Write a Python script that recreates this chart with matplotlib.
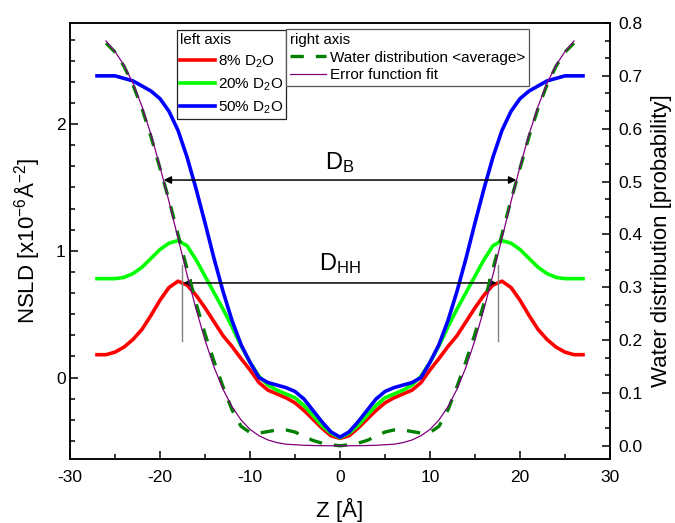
import matplotlib
matplotlib.use('Agg')
import matplotlib.pyplot as plt
from matplotlib.ticker import MultipleLocator

plt.rcParams['font.family'] = ['Liberation Sans', 'DejaVu Sans']
plt.rcParams['mathtext.fontset'] = 'custom'
plt.rcParams['mathtext.rm'] = 'Liberation Sans'
plt.rcParams['mathtext.it'] = 'Liberation Sans:italic'
plt.rcParams['mathtext.bf'] = 'Liberation Sans:bold'
plt.rcParams['axes.unicode_minus'] = False

# ---------------- data ----------------
z_nsld = list(range(-27, 28))
nsld_8 = [0.18, 0.18, 0.20, 0.24, 0.30, 0.38, 0.49, 0.61, 0.71, 0.76, 0.73, 0.65, 0.55, 0.44,
          0.33, 0.245, 0.15, 0.06, -0.04, -0.10, -0.13, -0.16, -0.20, -0.26, -0.33, -0.40, -0.46,
          -0.48,
          -0.46, -0.40, -0.33, -0.26, -0.20, -0.16, -0.13, -0.10, -0.04, 0.06, 0.15, 0.245, 0.33,
          0.44, 0.55, 0.65, 0.73, 0.76, 0.71, 0.61, 0.49, 0.38, 0.30, 0.24, 0.20, 0.18, 0.18]
nsld_20 = [0.78, 0.78, 0.78, 0.79, 0.82, 0.87, 0.94, 1.01, 1.06, 1.08, 1.04, 0.93, 0.80, 0.67,
           0.54, 0.40, 0.25, 0.12, 0.01, -0.06, -0.10, -0.13, -0.16, -0.22, -0.30, -0.38, -0.44,
           -0.475,
           -0.44, -0.38, -0.30, -0.22, -0.16, -0.13, -0.10, -0.06, 0.01, 0.12, 0.25, 0.40, 0.54,
           0.67, 0.80, 0.93, 1.04, 1.08, 1.06, 1.01, 0.94, 0.87, 0.82, 0.79, 0.78, 0.78, 0.78]
nsld_50 = [2.38, 2.38, 2.38, 2.36, 2.34, 2.30, 2.26, 2.20, 2.10, 1.95, 1.74, 1.49, 1.22, 0.94,
           0.68, 0.45, 0.26, 0.12, 0.00, -0.04, -0.06, -0.08, -0.11, -0.17, -0.26, -0.35, -0.43,
           -0.47,
           -0.43, -0.35, -0.26, -0.17, -0.11, -0.08, -0.06, -0.04, 0.00, 0.12, 0.26, 0.45, 0.68,
           0.94, 1.22, 1.49, 1.74, 1.95, 2.10, 2.20, 2.26, 2.30, 2.34, 2.36, 2.38, 2.38, 2.38]

z_water = list(range(-26, 27))
water_avg = [0.762, 0.745, 0.718, 0.683, 0.638, 0.585, 0.525, 0.465, 0.400, 0.335, 0.270,
             0.212, 0.160, 0.112, 0.068, 0.037, 0.025, 0.024, 0.027, 0.030, 0.030, 0.026,
             0.018, 0.010, 0.005, 0.002, 0.000,
             0.002, 0.005, 0.010, 0.018, 0.026, 0.030, 0.030, 0.027, 0.024, 0.025, 0.037,
             0.068, 0.112, 0.160, 0.212, 0.270, 0.335, 0.400, 0.465, 0.525, 0.585, 0.638,
             0.683, 0.718, 0.745, 0.762]
erf_fit = [0.766, 0.746, 0.720, 0.686, 0.642, 0.589, 0.528, 0.462, 0.393, 0.324, 0.259,
           0.200, 0.149, 0.107, 0.074, 0.049, 0.031, 0.019, 0.011, 0.006, 0.003, 0.002,
           0.001, 0.0005, 0.0002, 0.0001, 0.0,
           0.0001, 0.0002, 0.0005, 0.001, 0.002, 0.003, 0.006, 0.011, 0.019, 0.031, 0.049,
           0.074, 0.107, 0.149, 0.200, 0.259, 0.324, 0.393, 0.462, 0.528, 0.589, 0.642,
           0.686, 0.720, 0.746, 0.766]

labels_left = ['8% D$_2$O', '20% D$_2$O', '50% D$_2$O']
labels_right = ['Water distribution <average>', 'Error function fit']

# ---------------- figure ----------------
W, H = 675, 523
fig = plt.figure(figsize=(W / 100, H / 100), dpi=100)
ax = fig.add_axes([70 / W, 1 - 459 / H, 540 / W, 436 / H])
ax2 = ax.twinx()

lw_main = 2.6
l1, = ax.plot(z_nsld, nsld_8, color='#FF0000', lw=lw_main, label=labels_left[0])
l2, = ax.plot(z_nsld, nsld_20, color='#00FF00', lw=lw_main, label=labels_left[1])
l3, = ax.plot(z_nsld, nsld_50, color='#0000FF', lw=lw_main, label=labels_left[2])

l4, = ax2.plot(z_water, water_avg, color='#007F00', lw=2.4, linestyle=(0, (4, 3.6)),
               label=labels_right[0])
l5, = ax2.plot(z_water, erf_fit, color='#800080', lw=0.9, label=labels_right[1])

ax.set_xlim(-30, 30)
ax.set_ylim(-0.643, 2.797)
ax2.set_ylim(-0.025, 0.8)

ax.xaxis.set_major_locator(MultipleLocator(10))
ax.xaxis.set_minor_locator(MultipleLocator(5))
ax.yaxis.set_major_locator(MultipleLocator(1))
ax.yaxis.set_minor_locator(MultipleLocator(1 / 6))
ax2.yaxis.set_major_locator(MultipleLocator(0.1))
ax2.yaxis.set_minor_locator(MultipleLocator(0.1 / 3))
ax2.yaxis.set_major_formatter(matplotlib.ticker.FormatStrFormatter('%.1f'))

for a in (ax, ax2):
    for s in a.spines.values():
        s.set_linewidth(1.1)
ax.tick_params(which='both', direction='in', width=1.1, labelsize=12.5,
               top=False, right=False)
ax.tick_params(which='major', length=6)
ax.tick_params(which='minor', length=3.5)
ax.tick_params(axis='x', pad=8)
ax.tick_params(axis='y', pad=3)
ax2.tick_params(which='both', direction='in', width=1.1, labelsize=12.5, pad=6)
ax2.tick_params(which='major', length=6)
ax2.tick_params(which='minor', length=3.5)

ax.set_xlabel('Z [Å]', fontsize=16, labelpad=9)
ax.set_ylabel('NSLD [x10$^{-6}$Å$^{-2}$]', fontsize=16, labelpad=10)
ax2.set_ylabel('Water distribution [probability]', fontsize=16, labelpad=6)

# annotations (D_B and D_HH)
arrow_kw = dict(arrowstyle='<|-|>', mutation_scale=11, lw=1.1, color='black',
                shrinkA=0, shrinkB=0)
ax.annotate('', xy=(-19.6, 1.558), xytext=(19.6, 1.558), arrowprops=arrow_kw)
ax.annotate('', xy=(-17.4, 0.746), xytext=(17.4, 0.746), arrowprops=arrow_kw)
ax.plot([-17.6, -17.6], [0.288, 0.888], color='#808080', lw=1.0)
ax.plot([17.6, 17.6], [0.288, 0.888], color='#808080', lw=1.0)
ax.text(0, 1.60, 'D$_\\mathrm{B}$', fontsize=17, ha='center', va='bottom')
ax.text(0, 0.80, 'D$_\\mathrm{HH}$', fontsize=17, ha='center', va='bottom')

# legends
leg1 = ax2.legend(handles=[l1, l2, l3], title='left axis', loc='upper left',
                  bbox_to_anchor=(176.7 / W, 1 - 30 / H), bbox_transform=fig.transFigure,
                  fontsize=11, title_fontsize=10.8, alignment='left', frameon=True,
                  fancybox=False, edgecolor='#222222', framealpha=1, borderpad=0.2,
                  borderaxespad=0, handlelength=2.3, handletextpad=0.2, labelspacing=0.42)
leg1.get_frame().set_linewidth(0.9)
ax2.add_artist(leg1)
leg2 = ax2.legend(handles=[l4, l5], title='right axis', loc='upper left',
                  bbox_to_anchor=(286 / W, 1 - 29 / H), bbox_transform=fig.transFigure,
                  fontsize=11, title_fontsize=10.8, alignment='left', frameon=True,
                  fancybox=False, edgecolor='#555555', framealpha=1, borderpad=0.25,
                  borderaxespad=0, handlelength=2.4, handletextpad=0.22, labelspacing=0.25)
leg2.get_frame().set_linewidth(0.9)

fig.savefig('out.png', dpi=100)
